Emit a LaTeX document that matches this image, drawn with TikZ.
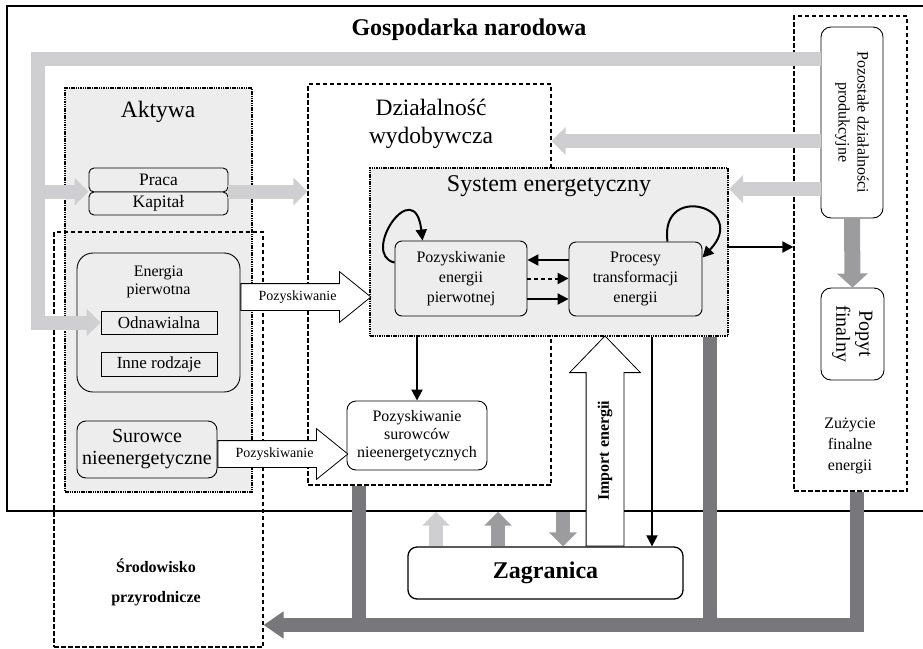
\documentclass[tikz,border=0pt]{standalone}
\usepackage{fontspec}
\setmainfont{Liberation Serif}
\usepackage{graphicx}
\usetikzlibrary{positioning}
\usetikzlibrary{arrows.meta}
\usetikzlibrary{shapes.arrows}
\definecolor{greyfill}{HTML}{EDEDED}
\definecolor{bandlight}{HTML}{CFCFD1}
\definecolor{bandmid}{HTML}{9C9C9E}
\definecolor{banddark}{HTML}{78787C}
\tikzset{
        txt/.style={align=center,inner sep=0pt},
        % Frames of the areas
        frame_dotted/.style={txt, rectangle, draw=black, line width=2.2pt, dash pattern=on 1.5pt off 0.8pt, fill=greyfill},
        frame_dashed/.style={txt, rectangle, draw=black, line width=1.2pt, dash pattern=on 4.5pt off 2.5pt},
        % Rounded boxes
        box_grey/.style={txt, rectangle, rounded corners=7pt, draw=black, line width=0.9pt, fill=greyfill},
        box_white/.style={box_grey, fill=white},
        % Sharp boxes
        box_flat/.style={txt, rectangle, draw=black, line width=0.9pt, fill=greyfill},
        % Thick bands
        band/.style={line width=14pt, line join=miter},
        band_tip/.style={band, -{Triangle[width=27pt,length=14pt]}},
        % Hollow arrows
        hollow_arrow/.style={single arrow, draw=black, line width=0.8pt, fill=white, minimum width=0pt, inner xsep=2pt},
        % Black arrows
        flow/.style={line width=2pt, -{Triangle[width=11pt,length=11pt]}}
}
\begin{document}
\begin{tikzpicture}[x=1pt, y=-1pt, font=\fontsize{16}{19}\selectfont]
    \useasboundingbox (0,0) rectangle (923,648);
    \clip (0,0) rectangle (923,648);
    % areas
    \node[txt, draw=black, line width=1.4pt, minimum width=933pt, minimum height=505pt] (gospodarka) at (473.5,258.5) {};
    \node[txt, font=\fontsize{24}{28}\selectfont\bfseries] (gospodarka_title) at (469,30) {Gospodarka narodowa};
    \node[frame_dotted, minimum width=187pt, minimum height=404pt] (aktywa) at (158.5,290) {};
    \node[txt, font=\fontsize{23.5}{28}\selectfont] (aktywa_title) at (158,112) {Aktywa};
    \node[frame_dashed, minimum width=243pt, minimum height=401pt] (dzialalnosc) at (429.5,284.5) {};
    \node[txt, font=\fontsize{23.5}{28}\selectfont] (dzialalnosc_title) at (431,124) {Działalność\\wydobywcza};
    \node[frame_dashed, minimum width=113pt, minimum height=475pt] (zuzycie) at (850.5,253.5) {};
    \node[txt, font=\fontsize{16}{21}\selectfont] (zuzycie_title) at (850,446) {Zużycie\\finalne\\energii};
    \node[frame_dashed, minimum width=209pt, minimum height=415pt] (srodowisko) at (158.5,439.5) {};
    \node[txt, font=\fontsize{16}{30}\selectfont\bfseries] (srodowisko_title) at (156,582) {Środowisko\\przyrodnicze};
    \node[frame_dotted, minimum width=358pt, minimum height=168pt] (system) at (549,252) {};
    \node[txt, font=\fontsize{24}{28}\selectfont] (system_title) at (549,186) {System energetyczny};

    % boxes
    \node[box_grey, minimum width=132pt, minimum height=75pt, font=\fontsize{16}{20}\selectfont] (pozysk_energii) at (461,278.5) {Pozyskiwanie\\energii\\pierwotnej};
    \node[box_grey, minimum width=133pt, minimum height=74pt, font=\fontsize{16}{20}\selectfont] (procesy) at (635.5,279) {Procesy\\transformacji\\energii};
    \node[box_grey, rounded corners=5pt, minimum width=139pt, minimum height=24pt, font=\fontsize{17.5}{20}\selectfont] (praca) at (158.5,180) {Praca};
    \node[box_grey, rounded corners=5pt, minimum width=139pt, minimum height=23pt, font=\fontsize{17.5}{20}\selectfont] (kapital) at (158.5,203.5) {Kapitał};
    \node[box_grey, rounded corners=16pt, minimum width=163pt, minimum height=139pt,
          label={[txt, anchor=north, yshift=-13pt, font=\fontsize{16}{18}\selectfont]north:Energia\\pierwotna}] (energia) at (158.5,322.5) {};
    \node[box_flat, minimum width=116pt, minimum height=23pt, font=\fontsize{17}{20}\selectfont] (odnawialna) at (159,322.5) {Odnawialna};
    \node[box_flat, minimum width=116pt, minimum height=24pt, font=\fontsize{17}{20}\selectfont] (inne) at (159,364) {Inne rodzaje};
    \node[box_grey, rounded corners=9pt, minimum width=140pt, minimum height=57pt, font=\fontsize{20}{22}\selectfont] (surowce) at (147,449.5) {Surowce\\nieenergetyczne};
    \node[box_white, rounded corners=9pt, minimum width=140pt, minimum height=69pt, font=\fontsize{16}{18}\selectfont] (pozysk_surowcow) at (417,435.5) {Pozyskiwanie\\surowców\\nieenergetycznych};
    \node[box_white, rounded corners=9pt, line width=1.3pt, minimum width=275pt, minimum height=52pt, font=\fontsize{24}{28}\selectfont\bfseries] (zagranica) at (545.5,573) {Zagranica};
    \node[box_white, rounded corners=10pt, minimum width=62pt, minimum height=191pt] (pozostale) at (852,122.5)
        {\rotatebox{-90}{\begin{tabular}{@{}c@{}}Pozostałe działalności\\produkcyjne\end{tabular}}};
    \node[box_white, rounded corners=10pt, minimum width=63pt, minimum height=92pt, font=\fontsize{20}{23}\selectfont] (popyt) at (852.5,334)
        {\rotatebox{-90}{\begin{tabular}{@{}c@{}}Popyt\\finalny\end{tabular}}};

    % grey bands
    \coordinate (band_corner) at (38,59);
    \draw[band_tip, bandlight] (pozostale.west |- band_corner) -- (band_corner) -- (band_corner |- odnawialna.west) -- (odnawialna.west);
    \draw[band_tip, bandlight] (band_corner |- kapital.north) -- (kapital.north west);
    \draw[band_tip, bandlight] (kapital.north east) -- (kapital.north east -| dzialalnosc.west);
    \draw[band_tip, bandlight] ([yshift=-18.5pt]pozostale.west) -- ([yshift=-18.5pt]pozostale.west -| dzialalnosc.east);
    \draw[band_tip, bandlight] ([yshift=-66.5pt]pozostale.west) -- ([yshift=-66.5pt]pozostale.west -| system.east);
    \draw[band, bandmid, line width=16pt, -{Triangle[width=30pt,length=14pt]}] (pozostale.south) -- (popyt.north);
    \coordinate (dark_left) at (359,632);
    \coordinate (dark_mid) at (710,632);
    \coordinate (dark_corner) at (857,625);
    \draw[band, banddark] (dzialalnosc.south -| dark_left) -- (dark_left);
    \draw[band, banddark] (system.south -| dark_mid) -- (dark_mid);
    \draw[band, banddark, -{Triangle[width=26pt,length=20pt]}] (zuzycie.south -| dark_corner) -- (dark_corner) -- (dark_corner -| srodowisko.east);
    \coordinate (trade_a) at (436,0);
    \coordinate (trade_b) at (498,0);
    \coordinate (trade_c) at (563,0);
    \draw[band_tip, bandlight] (zagranica.north -| trade_a) -- (gospodarka.south -| trade_a);
    \draw[band_tip, bandmid] (zagranica.north -| trade_b) -- (gospodarka.south -| trade_b);
    \draw[band_tip, bandmid] (gospodarka.south -| trade_c) -- (zagranica.north -| trade_c);

    % hollow arrows
    \node[hollow_arrow, anchor=tail, minimum height=130pt, single arrow head extend=12pt, single arrow tip angle=78,
          text height=10pt, text depth=3pt, inner ysep=6.5pt, font=\fontsize{14}{16}\selectfont]
          (pozysk_a) at ([yshift=25.5pt]energia.east) {Pozyskiwanie};
    \node[hollow_arrow, anchor=tail, minimum height=130pt, single arrow head extend=12pt, single arrow tip angle=78,
          text height=10pt, text depth=3pt, inner ysep=6.5pt, font=\fontsize{14}{16}\selectfont]
          (pozysk_b) at ([yshift=-4.5pt]surowce.east) {Pozyskiwanie};
    \coordinate (import_x) at (605,0);
    \node[hollow_arrow, rotate=90, anchor=tail, minimum height=210pt, single arrow head extend=16.5pt, single arrow tip angle=88,
          text height=11pt, text depth=3.5pt, inner ysep=11.25pt, font=\fontsize{16}{18}\selectfont\bfseries]
          (import) at (zagranica.north -| import_x) {Import energii};

    % black flows
    \draw[flow] ([yshift=19pt]procesy.west) -- ([yshift=19pt]procesy.west -| pozysk_energii.east);
    \draw[flow, dash pattern=on 4pt off 3pt] (pozysk_energii.east) -- (pozysk_energii.east -| procesy.west);
    \draw[flow] ([yshift=-20.5pt]pozysk_energii.east) -- ([yshift=-20.5pt]pozysk_energii.east -| procesy.west);
    \draw[flow] ([yshift=5pt]system.east) -- ([yshift=5pt]system.east -| zuzycie.west);
    \draw[flow] (system.south -| pozysk_surowcow.north) -- (pozysk_surowcow.north);
    \coordinate (export_x) at (652,0);
    \draw[flow] (system.south -| export_x) -- (zagranica.north -| export_x);
    \draw[flow] ([yshift=-22pt]pozysk_energii.north west) .. controls +(-35,-8) and +(-8,-68) .. ([xshift=28pt]pozysk_energii.north west);
    \draw[flow] ([xshift=-35pt]procesy.north east) .. controls +(-8,-60) and +(48,-50) .. ([yshift=-16pt]procesy.north east);
\end{tikzpicture}
\end{document}
